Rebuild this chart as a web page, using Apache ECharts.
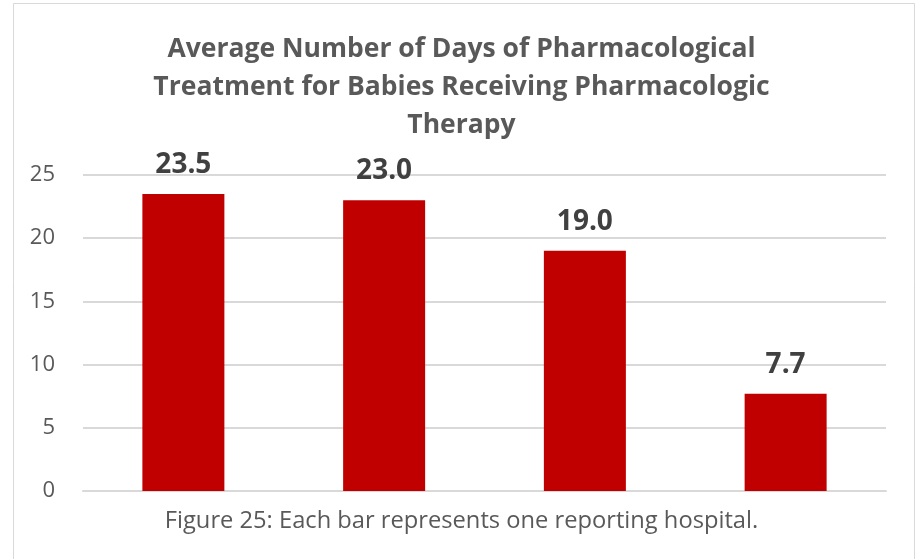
<!DOCTYPE html>
<html>
<head>
<meta charset="utf-8">
<script src="https://cdn.jsdelivr.net/npm/echarts@6/dist/echarts.min.js"></script>
<style>
  html, body { margin: 0; padding: 0; background: #fff; }
  #chart { width: 923px; height: 559px; }
</style>
</head>
<body>
<div id="chart"></div>
<script>
// data
const hospitals = ["Hospital 1", "Hospital 2", "Hospital 3", "Hospital 4"];
const avgDays = [23.5, 23.0, 19.0, 7.7];
const yTicks = [0, 5, 10, 15, 20, 25];

const chart = echarts.init(document.getElementById("chart"));
chart.setOption({
  animation: false,
  textStyle: { fontFamily: "Open Sans" },
  title: {
    text: "Average Number of Days of Pharmacological\nTreatment for Babies Receiving Pharmacologic\nTherapy",
    left: "center",
    top: 25,
    textStyle: {
      color: "#595959",
      fontSize: 26.5,
      fontWeight: "bold",
      lineHeight: 38,
      fontFamily: "Open Sans"
    }
  },
  graphic: [
    {
      type: "rect",
      shape: { x: 13.5, y: 3.5, width: 901, height: 600 },
      style: { fill: "none", stroke: "#d9d9d9", lineWidth: 1 }
    },
    {
      type: "text",
      left: "center",
      top: 509,
      style: {
        text: "Figure 25: Each bar represents one reporting hospital.",
        fill: "#595959",
        font: "23.7px 'Open Sans'"
      }
    }
  ],
  grid: { left: 83, right: 37, top: 175, bottom: 68, containLabel: false },
  xAxis: {
    type: "category",
    data: hospitals,
    axisLabel: { show: false },
    axisTick: { show: false },
    axisLine: { lineStyle: { color: "#d9d9d9", width: 2 } }
  },
  yAxis: {
    type: "value",
    min: yTicks[0],
    max: yTicks[yTicks.length - 1],
    interval: 5,
    axisLine: { show: false },
    axisTick: { show: false },
    axisLabel: { color: "#595959", fontSize: 22, margin: 28, fontFamily: "Open Sans" },
    splitLine: { lineStyle: { color: "#d9d9d9", width: 2 } }
  },
  series: [
    {
      type: "bar",
      data: avgDays,
      barWidth: 82,
      itemStyle: { color: "#C00000" },
      label: {
        show: true,
        position: "top",
        distance: 15,
        color: "#404040",
        fontSize: 28,
        fontWeight: "bold",
        fontFamily: "Open Sans",
        formatter: function (p) { return p.value.toFixed(1); }
      }
    }
  ]
});
</script>
</body>
</html>
